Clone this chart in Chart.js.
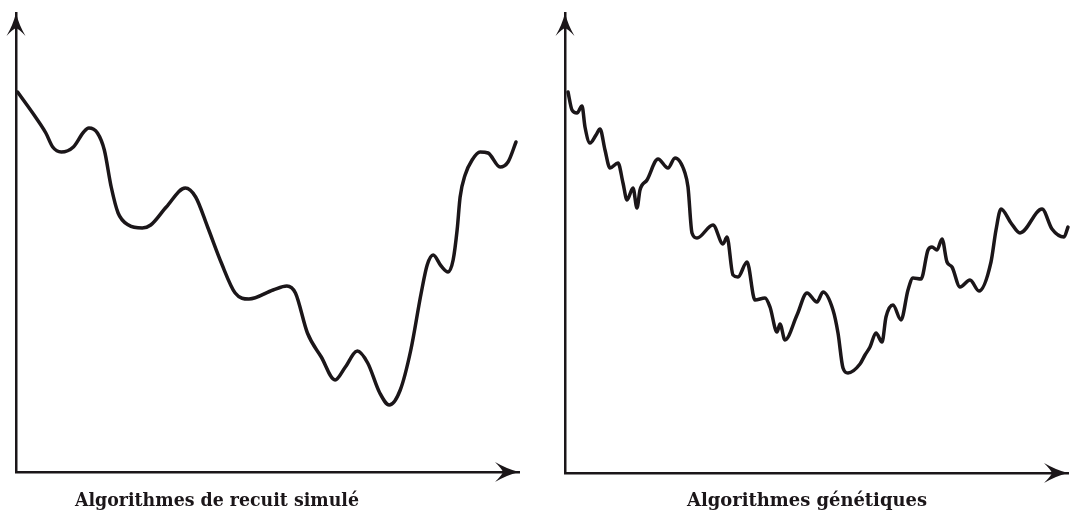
<!DOCTYPE html>
<html>
<head>
<meta charset="utf-8">
<script src="https://cdn.jsdelivr.net/npm/chart.js@4.4.1/dist/chart.umd.min.js"></script>
<style>
  html, body { margin: 0; padding: 0; background: #ffffff; }
  body { width: 1071px; height: 512px; position: relative; overflow: hidden; }
  .panel { position: absolute; top: 0; }
  .caption {
    position: absolute; top: 489px; white-space: nowrap;
    font-family: "DejaVu Serif", "Liberation Serif", serif; font-weight: bold;
    font-size: 18px; color: #1b1619; line-height: 22px;
    transform-origin: 0 0;
  }
</style>
</head>
<body>
<div class="panel" style="left:0px;width:540px;height:512px"><canvas id="c1" width="540" height="512"></canvas></div>
<div class="panel" style="left:540px;width:531px;height:512px"><canvas id="c2" width="531" height="512"></canvas></div>
<div class="caption" id="t1">Algorithmes de recuit simulé</div>
<div class="caption" id="t2">Algorithmes génétiques</div>
<script>
// ---- Data (arbitrary units: x = progress of the search, y = cost) ----
const recuitX = [1.6, 19.5, 29.9, 36.8, 45.4, 57.5, 67.8, 73, 81.6, 88.5, 95.4, 102.3, 112.7, 126.5, 135, 150.6, 169.6, 180, 192, 205.8, 219.6, 233.4, 257.6, 271.4, 280, 292, 305.9, 319.7, 330, 342, 352.4, 364.5, 374, 385, 395.6, 406, 412, 418, 426, 433, 438, 442, 445, 450, 457, 465, 473, 485, 493, 501];
const recuitY = [380, 355, 339, 325, 320, 325, 340, 344, 339, 322, 285, 259, 247, 244, 247, 265, 284, 275, 245, 209, 179, 173, 182, 186, 179, 139, 115, 92, 105, 121, 109, 79, 67, 82, 122, 179, 207, 217, 206, 200, 212, 242, 275, 297, 312, 320, 319, 305, 310, 330];
const genetiqueX = [3, 7, 12, 17, 20, 25, 31, 35, 40, 45, 53, 58, 62, 68, 72, 75, 82, 93, 103, 110, 120, 123, 127, 132, 148, 158, 162, 168, 173, 182, 190, 200, 205, 212, 215, 220, 232, 242, 252, 258, 268, 273, 278, 283, 295, 300, 305, 311, 317, 321, 328, 336, 343, 348, 356, 363, 367, 372, 377, 382, 387, 395, 405, 414, 426, 431, 436, 446, 455, 477, 487, 499, 503];
const genetiqueY = [381, 363, 360, 367, 346, 330, 338, 344, 323, 305, 310, 290, 273, 285, 265, 283, 293, 314, 305, 315, 300, 286, 240, 235, 248, 229, 236, 198, 196, 211, 173, 175, 166, 141, 149, 133, 158, 180, 171, 181, 163, 140, 105, 100, 109, 118, 126, 140, 131, 156, 168, 153, 183, 195, 194, 223, 226, 223, 234, 211, 206, 186, 193, 182, 211, 243, 264, 250, 240, 264, 244, 236, 246];
</script>
<script>
function pairs(xs, ys) {
  const n = Math.min(xs.length, ys.length);
  const out = [];
  for (let i = 0; i < n; i++) out.push({ x: xs[i], y: ys[i] });
  return out;
}
const INK = '#1b1619';

const arrowPlugin = {
  id: 'arrows',
  afterDraw(chart) {
    const { ctx, chartArea: a } = chart;
    ctx.save();
    ctx.fillStyle = INK;
    let x0 = a.left, y0 = a.top;
    ctx.beginPath();
    ctx.moveTo(x0, y0);
    ctx.quadraticCurveTo(x0 + 3, y0 + 12, x0 + 9.5, y0 + 23);
    ctx.quadraticCurveTo(x0 + 3, y0 + 16, x0, y0 + 15);
    ctx.quadraticCurveTo(x0 - 3, y0 + 16, x0 - 9.5, y0 + 23);
    ctx.quadraticCurveTo(x0 - 3, y0 + 12, x0, y0);
    ctx.fill();
    x0 = a.right; y0 = a.bottom;
    ctx.beginPath();
    ctx.moveTo(x0, y0);
    ctx.quadraticCurveTo(x0 - 12, y0 - 3, x0 - 24, y0 - 10);
    ctx.quadraticCurveTo(x0 - 17, y0 - 3, x0 - 16, y0);
    ctx.quadraticCurveTo(x0 - 17, y0 + 3, x0 - 24, y0 + 10);
    ctx.quadraticCurveTo(x0 - 12, y0 + 3, x0, y0);
    ctx.fill();
    ctx.restore();
  }
};

function makeChart(id, xs, ys, xMax, yMax, pad) {
  return new Chart(document.getElementById(id), {
    type: 'line',
    data: {
      datasets: [{
        data: pairs(xs, ys),
        borderColor: INK,
        borderWidth: 3.5,
        pointRadius: 0,
        fill: false,
        cubicInterpolationMode: 'monotone',
        borderCapStyle: 'round',
        borderJoinStyle: 'round',
        clip: false
      }]
    },
    options: {
      responsive: false,
      animation: false,
      layout: { padding: pad },
      plugins: { legend: { display: false }, tooltip: { enabled: false }, title: { display: false } },
      scales: {
        x: {
          type: 'linear', min: 0, max: xMax,
          grid: { display: false },
          ticks: { display: false },
          border: { display: true, color: INK, width: 2.5 }
        },
        y: {
          type: 'linear', min: 0, max: yMax,
          grid: { display: false },
          ticks: { display: false },
          border: { display: true, color: INK, width: 2.5 }
        }
      }
    },
    plugins: [arrowPlugin]
  });
}

makeChart('c1', recuitX, recuitY, 504, 459, { left: 8, top: 13, right: 21, bottom: 32 });
makeChart('c2', genetiqueX, genetiqueY, 503, 460, { left: 17, top: 13, right: 3, bottom: 31 });

function place(id, left, width) {
  const el = document.getElementById(id);
  const w = el.getBoundingClientRect().width;
  el.style.left = left + 'px';
  el.style.transform = 'scaleX(' + (width / w) + ')';
}
place('t1', 75, 284);
place('t2', 687, 240);
</script>
</body>
</html>
